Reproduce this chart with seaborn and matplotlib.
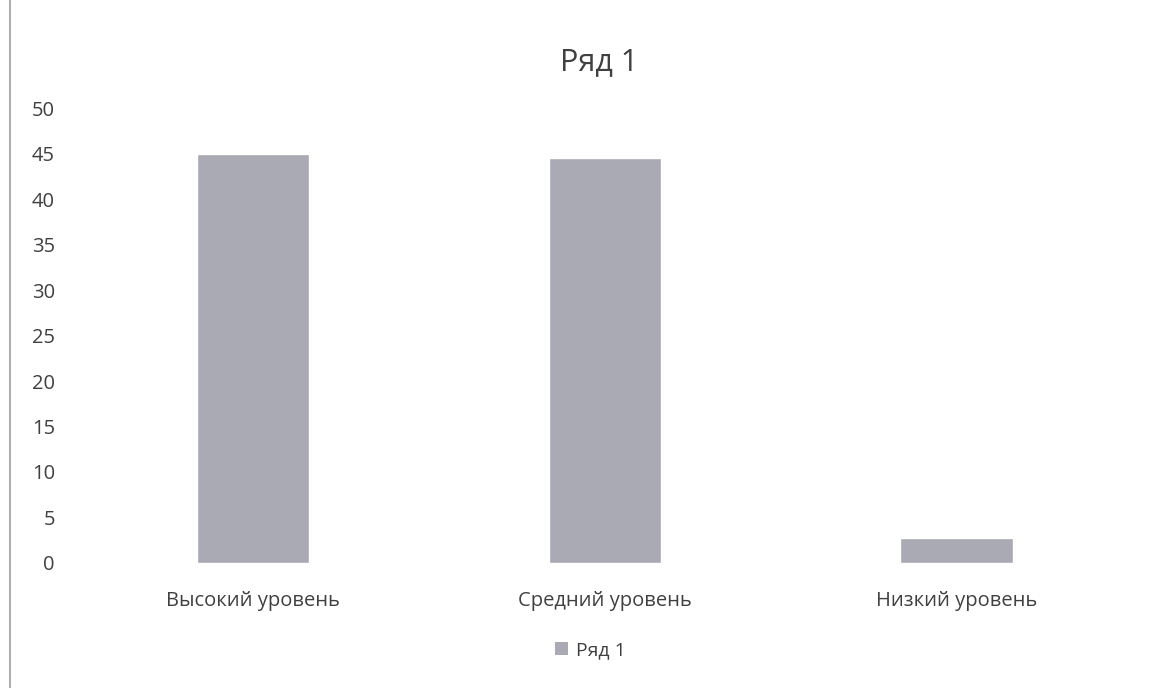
import matplotlib
matplotlib.use('Agg')
import matplotlib.pyplot as plt
import seaborn as sns
import pandas as pd
from matplotlib.patches import Patch

sns.set_style("white")
plt.rcParams['font.family'] = ['Open Sans', 'DejaVu Sans']

# Данные
categories = ['Высокий уровень', 'Средний уровень', 'Низкий уровень']
values = [45, 44.5, 2.7]
series_name = 'Ряд 1'

df = pd.DataFrame({'cat': categories, 'val': values})
bar_color = '#a9aab4'

fig = plt.figure(figsize=(11.57, 6.88), dpi=100)
ax = fig.add_axes([0.0666, 0.1817, 0.9124, 0.6613])

sns.barplot(data=df, x='cat', y='val', color=bar_color, width=0.32, ax=ax, saturation=1)

ax.set_ylim(0, 50)
ax.set_yticks(range(0, 51, 5))
ax.set_xlim(-0.5, 2.5)
ax.set_xlabel('')
ax.set_ylabel('')
for s in ax.spines.values():
    s.set_visible(False)
ax.tick_params(axis='y', length=0, labelsize=14.5, colors='#404040', pad=16)
ax.tick_params(axis='x', length=0, labelsize=14.5, colors='#404040', pad=20)

fig.text(0.518, 0.91, series_name, ha='center', va='center', fontsize=22, color='#404040')

handles = [Patch(facecolor=bar_color, edgecolor='none', label=series_name)]
fig.legend(handles=handles, loc='center', bbox_to_anchor=(0.51, 0.055), frameon=False,
           fontsize=14, handlelength=0.7, handleheight=0.7, handletextpad=0.4,
           labelcolor='#404040')

# рамка скана слева
fig.add_artist(plt.Line2D([0.009, 0.009], [0.0, 1.0], color='#b0b0b0', linewidth=1.5))

plt.savefig('out.png', dpi=100)
